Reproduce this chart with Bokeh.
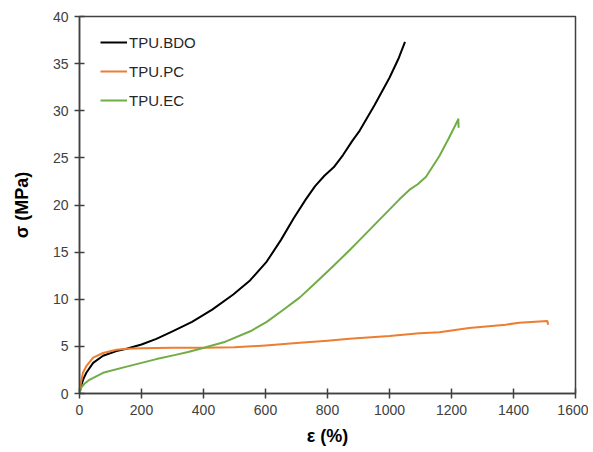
from bokeh.plotting import figure
from bokeh.models import Range1d, SingleIntervalTicker, Legend, LegendItem
from bokeh.embed import file_html
from bokeh.resources import INLINE

# Data (strain %, stress MPa)
bdo_x = [0, 5, 12, 22, 44, 76, 119, 152, 200, 248, 300, 363, 428, 496, 550, 604, 650, 691, 730, 760, 790, 820, 850, 880, 904, 952, 1000, 1030, 1050]
bdo_y = [0, 0.8, 1.5, 2.2, 3.25, 4.0, 4.5, 4.75, 5.2, 5.8, 6.6, 7.6, 8.9, 10.5, 12.0, 14.0, 16.3, 18.6, 20.6, 22.0, 23.1, 24.0, 25.3, 26.8, 27.9, 30.6, 33.5, 35.6, 37.3]

pc_x = [0, 5, 11, 22, 44, 76, 119, 152, 200, 300, 400, 500, 600, 700, 800, 871, 1000, 1096, 1161, 1257, 1375, 1418, 1509, 1512]
pc_y = [0, 1.2, 2.2, 2.9, 3.8, 4.3, 4.65, 4.75, 4.8, 4.85, 4.85, 4.9, 5.1, 5.35, 5.6, 5.8, 6.1, 6.4, 6.5, 6.95, 7.3, 7.5, 7.7, 7.3]

ec_x = [0, 5, 15, 32, 76, 152, 200, 248, 310, 350, 390, 471, 551, 604, 650, 711, 760, 818, 871, 904, 968, 1032, 1064, 1091, 1118, 1161, 1190, 1222, 1223]
ec_y = [0, 0.6, 1.0, 1.45, 2.2, 2.85, 3.25, 3.65, 4.1, 4.4, 4.75, 5.5, 6.6, 7.6, 8.7, 10.2, 11.7, 13.5, 15.2, 16.3, 18.45, 20.6, 21.6, 22.2, 23.0, 25.2, 27.0, 29.1, 28.2]

series_names = ["TPU.BDO", "TPU.PC", "TPU.EC"]
series_colors = ["#000000", "#ED7D31", "#70AD47"]

p = figure(width=588, height=448, output_backend="svg", toolbar_location=None,
           x_range=Range1d(0, 1600), y_range=Range1d(0, 40),
           min_border_left=79, min_border_right=13, min_border_top=16, min_border_bottom=54)

p.xgrid.visible = False
p.ygrid.visible = False
p.outline_line_color = "#404040"
p.outline_line_width = 1.5
p.background_fill_color = "white"
p.border_fill_color = "white"

renderers = []
for xs, ys, c in zip([bdo_x, pc_x, ec_x], [bdo_y, pc_y, ec_y], series_colors):
    r = p.line(xs, ys, line_color=c, line_width=2, line_join="round")
    renderers.append(r)

p.xaxis.ticker = SingleIntervalTicker(interval=200)
p.yaxis.ticker = SingleIntervalTicker(interval=5)

for ax in (p.xaxis[0], p.yaxis[0]):
    ax.axis_line_color = "#404040"
    ax.axis_line_width = 1.5
    ax.major_tick_line_color = "#404040"
    ax.major_tick_line_width = 1.5
    ax.major_tick_in = 5
    ax.major_tick_out = 5
    ax.minor_tick_line_color = None
    ax.major_label_text_font = "Liberation Sans"
    ax.major_label_text_font_size = "14px"
    ax.major_label_text_color = "#404040"
    ax.axis_label_text_font = "Liberation Sans"
    ax.axis_label_text_font_style = "bold"
    ax.axis_label_text_font_size = "18px"
    ax.axis_label_text_color = "#000000"

p.xaxis.axis_label = "ε (%)"
p.yaxis.axis_label = "σ (MPa)"
p.xaxis.major_label_standoff = 6
p.yaxis.major_label_standoff = 6
p.xaxis.axis_label_standoff = 8
p.yaxis.axis_label_standoff = 18

legend = Legend(items=[LegendItem(label=n, renderers=[r]) for n, r in zip(series_names, renderers)],
                location=(21, 283), border_line_color=None, background_fill_alpha=0,
                padding=0, margin=0, spacing=9, glyph_width=27, glyph_height=20,
                label_height=20, label_standoff=2,
                label_text_font="Liberation Sans", label_text_font_size="15px",
                label_text_color="#262626")
p.add_layout(legend)

open("out.html", "w").write(file_html(p, INLINE))
